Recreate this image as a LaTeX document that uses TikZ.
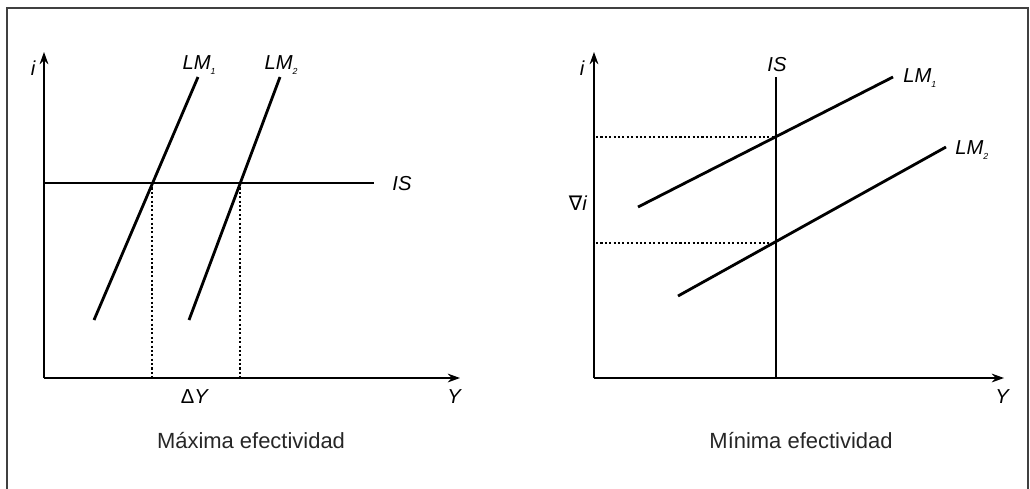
\documentclass[tikz,border=0pt]{standalone}
\usepackage{fontspec}
\setmainfont{Liberation Sans}
\newfontfamily\dejavu{DejaVu Sans}
\usetikzlibrary{arrows.meta}
\newcommand{\sub}[1]{\raisebox{-0.5ex}{\fontsize{5}{5}\selectfont #1}}
\begin{document}
\begin{tikzpicture}[x=0.02cm,y=-0.02cm,
  axis/.style={line width=0.85pt,-{Stealth[length=7pt,width=5pt]}},
  curve/.style={line width=1.6pt},
  isline/.style={line width=0.7pt},
  guide/.style={line width=1.4pt,dash pattern=on 1.2pt off 1.3pt},
  lbl/.style={font=\fontsize{11.5}{13}\selectfont\itshape,inner sep=0pt},
  captext/.style={font=\fontsize{12.5}{14}\selectfont,inner sep=0pt,text=black!85}]
\useasboundingbox (0,0) rectangle (1030,488);
\draw[line width=1.1pt,black!75] (7,500) -- (7,8) -- (1028,8) -- (1028,500);
% ---- left panel
\coordinate (lo) at (44,378);
\coordinate (ltop) at (44,52);
\coordinate (lright) at (460,378);
\draw[axis] (lo) -- (ltop);
\draw[axis] (lo) -- (lright);
\node[lbl] (li) at (33,68) {i};
\node[lbl] (lY) at (454,397) {Y};
\coordinate (isL) at (44,183);
\coordinate (isR) at (374,183);
\draw[isline] (isL) -- (isR);
\node[lbl] (lIS) at (402,184) {IS};
\coordinate (a1) at (94,320); \coordinate (b1) at (198,77);
\coordinate (a2) at (189,320); \coordinate (b2) at (280,77);
\draw[curve] (a1) -- (b1);
\draw[curve] (a2) -- (b2);
\node[lbl] (llm1) at (199,65) {LM\sub{1}};
\node[lbl] (llm2) at (281,65) {LM\sub{2}};
\coordinate (e1) at (152,183); \coordinate (e2) at (240,183);
\coordinate (f1) at (152,378); \coordinate (f2) at (240,378);
\draw[guide] (e1) -- (f1);
\draw[guide] (e2) -- (f2);
\node[lbl,font=\fontsize{11.5}{13}\selectfont] (dY) at (195,397) {Δ\textit{Y}};
\node[captext] (c1) at (251,441) {Máxima efectividad};
% ---- right panel
\coordinate (ro) at (594,378);
\coordinate (rtop) at (594,52);
\coordinate (rright) at (1004,378);
\draw[axis] (ro) -- (rtop);
\draw[axis] (ro) -- (rright);
\node[lbl] (ri) at (582,68) {i};
\node[lbl] (rY) at (1002,397) {Y};
\coordinate (isT) at (776,77); \coordinate (isB) at (776,378);
\draw[isline] (isT) -- (isB);
\node[lbl] (rIS) at (777,65) {IS};
\coordinate (c1a) at (638,207); \coordinate (c1b) at (893,77);
\coordinate (c2a) at (678,296); \coordinate (c2b) at (946,147);
\draw[curve] (c1a) -- (c1b);
\draw[curve] (c2a) -- (c2b);
\node[lbl,anchor=west] (rlm1) at (903,78) {LM\sub{1}};
\node[lbl,anchor=west] (rlm2) at (955,150) {LM\sub{2}};
\coordinate (h1a) at (596,137); \coordinate (h1b) at (776,137);
\coordinate (h2a) at (596,243); \coordinate (h2b) at (776,243);
\draw[guide] (h1a) -- (h1b);
\draw[guide] (h2a) -- (h2b);
\node[lbl,font=\fontsize{11.5}{13}\selectfont] (di) at (578,203) {{\dejavu ∇}\textit{i}};
\node[captext] (c2) at (801,441) {Mínima efectividad};
\end{tikzpicture}
\end{document}
